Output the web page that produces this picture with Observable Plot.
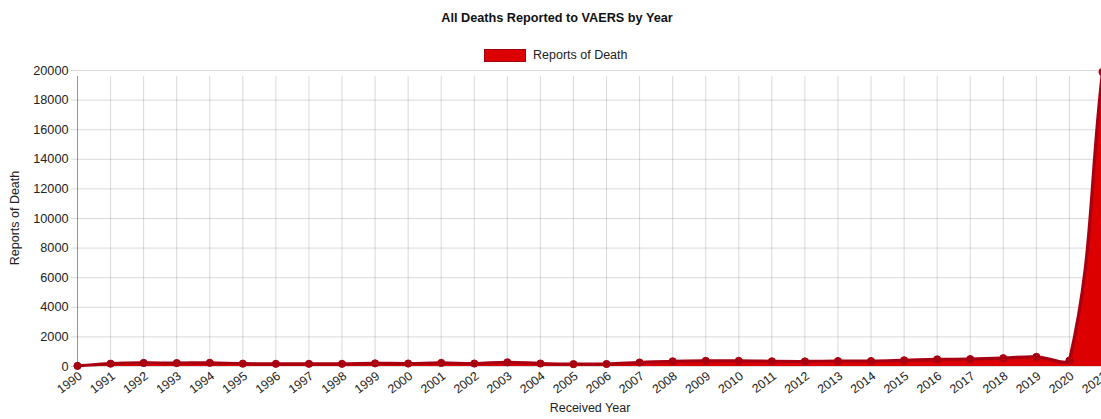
<!DOCTYPE html>
<html>
<head>
<meta charset="utf-8">
<script src="https://cdn.jsdelivr.net/npm/d3@7"></script>
<script src="https://cdn.jsdelivr.net/npm/@observablehq/plot@0.6"></script>
<style>
  html, body { margin: 0; padding: 0; background: #fff; }
  body { width: 1101px; height: 419px; position: relative; overflow: hidden; font-family: "Liberation Sans", Arial, sans-serif; }
  #title { position: absolute; left: 357px; top: 11px; width: 400px; text-align: center; font-weight: bold; font-size: 12.7px; line-height: 15px; color: #111; }
  #legend { position: absolute; left: 484px; top: 48px; height: 14px; display: flex; align-items: center; font-size: 12.5px; color: #222; white-space: nowrap; }
  #legend .box { width: 40px; height: 11px; background: #dd0000; border: 1.5px solid #a00010; margin-right: 7px; }
  #chart { position: absolute; left: 0; top: 64px; }
  #xtitle { position: absolute; left: 490px; top: 401px; width: 200px; text-align: center; font-size: 12.5px; color: #222; }
  #ytitle { position: absolute; left: 15px; top: 218px; transform: translate(-50%, -50%) rotate(-90deg); font-size: 12.5px; color: #222; white-space: nowrap; }
</style>
</head>
<body>
<div id="title">All Deaths Reported to VAERS by Year</div>
<div id="legend"><div class="box"></div><span id="legendLabel"></span></div>
<div id="chart"></div>
<div id="ytitle">Reports of Death</div>
<div id="xtitle">Received Year</div>
<script>
// ---- data ----
const years = [1990,1991,1992,1993,1994,1995,1996,1997,1998,1999,2000,2001,2002,2003,2004,2005,2006,2007,2008,2009,2010,2011,2012,2013,2014,2015,2016,2017,2018,2019,2020,2021];
const deaths = [40,190,240,230,250,190,180,180,180,210,200,240,200,280,200,160,170,270,350,380,380,350,340,370,370,420,480,500,560,650,400,19900];
const yTicks = [0,2000,4000,6000,8000,10000,12000,14000,16000,18000,20000];
const seriesName = "Reports of Death";

document.getElementById("legendLabel").textContent = seriesName;
const data = years.map((year, i) => ({year, value: deaths[i]}));

// plot-area geometry (SVG coordinates)
const AREA_TOP = 6, AREA_BOTTOM = 302, AREA_LEFT = 77, AREA_RIGHT = 1102;

// Chart.js-style bezier spline (tension 0.4) as a d3 curve factory
function chartCurve(context) {
  const T = 0.4;
  const clampY = v => Math.max(AREA_TOP, Math.min(AREA_BOTTOM, v));
  const clampX = v => Math.max(AREA_LEFT, Math.min(AREA_RIGHT, v));
  return {
    _line: undefined,
    areaStart() { this._line = 0; },
    areaEnd() { this._line = NaN; },
    lineStart() { this._pts = []; },
    point(x, y) { this._pts.push([+x, +y]); },
    lineEnd() {
      const p = this._pts, n = p.length, c = context;
      if (n) {
        this._line ? c.lineTo(p[0][0], p[0][1]) : c.moveTo(p[0][0], p[0][1]);
        const cp = p.map((cur, i) => {
          const prev = p[Math.max(0, i - 1)], next = p[Math.min(n - 1, i + 1)];
          const d01 = Math.hypot(cur[0] - prev[0], cur[1] - prev[1]);
          const d12 = Math.hypot(next[0] - cur[0], next[1] - cur[1]);
          let s01 = d01 / (d01 + d12), s12 = d12 / (d01 + d12);
          if (!isFinite(s01)) s01 = 0;
          if (!isFinite(s12)) s12 = 0;
          const fa = T * s01, fb = T * s12;
          return {
            px: clampX(cur[0] - fa * (next[0] - prev[0])), py: clampY(cur[1] - fa * (next[1] - prev[1])),
            nx: clampX(cur[0] + fb * (next[0] - prev[0])), ny: clampY(cur[1] + fb * (next[1] - prev[1]))
          };
        });
        for (let i = 1; i < n; i++) {
          c.bezierCurveTo(cp[i - 1].nx, cp[i - 1].ny, cp[i].px, cp[i].py, p[i][0], p[i][1]);
        }
      }
      if (this._line || (this._line !== 0 && n === 1)) c.closePath();
      this._line = 1 - this._line;
    }
  };
}

const gridColor = "#000";
const chart = Plot.plot({
  width: 1101,
  height: 355,
  marginTop: AREA_TOP,
  marginBottom: 355 - AREA_BOTTOM,
  marginLeft: AREA_LEFT,
  marginRight: 0,
  style: { fontFamily: "'Liberation Sans', Arial, sans-serif", background: "transparent", overflow: "hidden" },
  x: { domain: [1990, 2021], range: [AREA_LEFT, AREA_RIGHT], axis: null },
  y: { domain: [0, 20000], range: [AREA_BOTTOM, AREA_TOP], axis: null },
  marks: [
    Plot.ruleX(years, { x: d => d, y1: 0, y2: 20000, insetBottom: -6, stroke: gridColor, strokeOpacity: 0.15 }),
    Plot.ruleY(yTicks, { y: d => d, x1: 1990, x2: 2021, insetLeft: -6, stroke: gridColor, strokeOpacity: 0.15 }),
    Plot.ruleX([1990], { y1: 0, y2: 20000, insetBottom: -6, stroke: gridColor, strokeOpacity: 0.3 }),
    Plot.areaY(data, { x: "year", y: "value", curve: chartCurve, fill: "#dd0000" }),
    Plot.lineY(data, { x: "year", y: "value", curve: chartCurve, stroke: "#a80010", strokeWidth: 3.2 }),
    Plot.dot(data, { x: "year", y: "value", r: 3.6, fill: "#a80010", stroke: "#a80010", strokeWidth: 1 }),
    Plot.text(yTicks, { x: 1990, y: d => d, text: d => String(d), textAnchor: "end", dx: -9, fontSize: 12.7, fill: "#222" }),
    Plot.text(years, { x: d => d, y: 0, text: d => String(d), rotate: -37, textAnchor: "end", dx: 3, dy: 8, fontSize: 12.3, fill: "#222" })
  ]
});
document.getElementById("chart").appendChild(chart);
</script>
</body>
</html>
